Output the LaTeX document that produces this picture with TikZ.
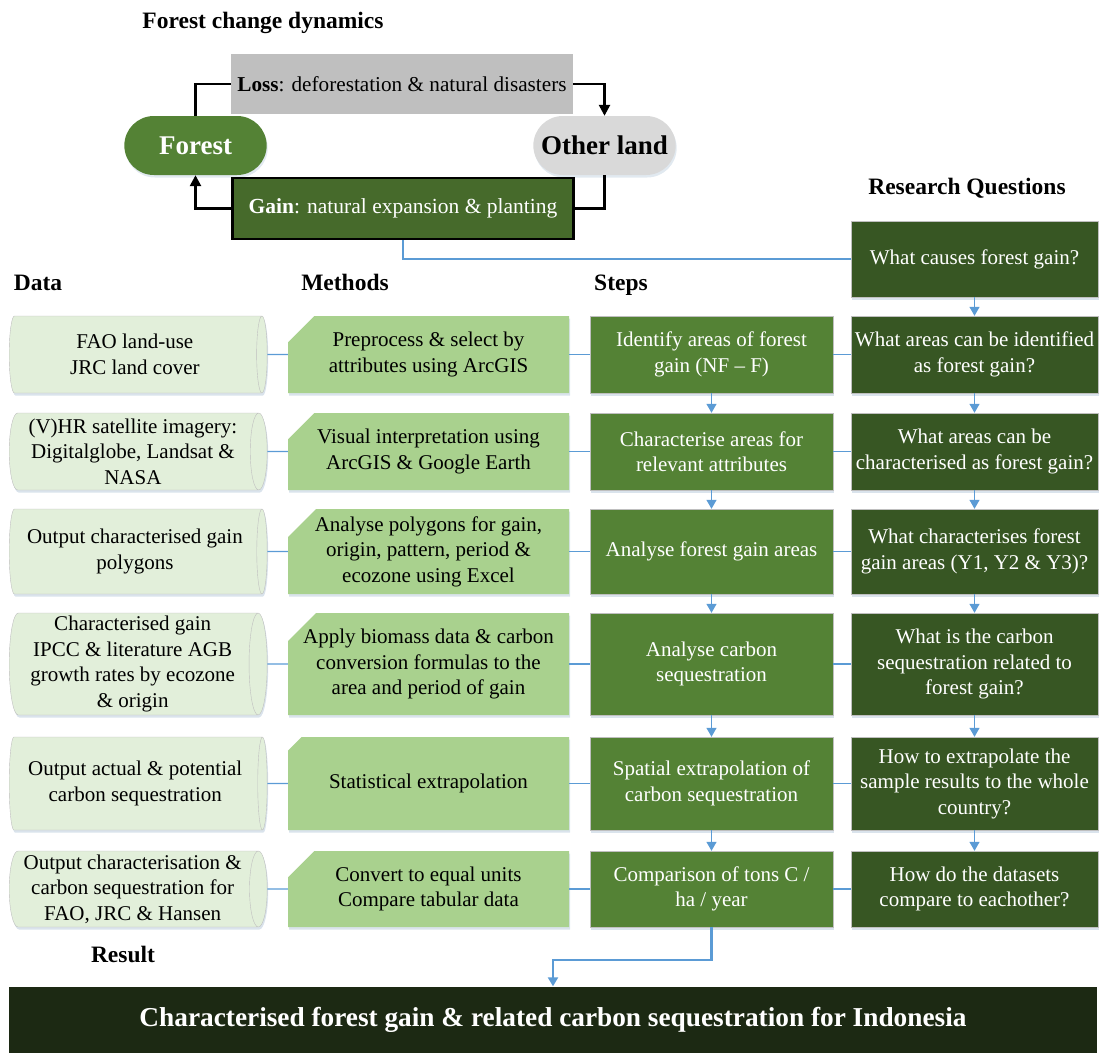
\documentclass[tikz,border=0pt]{standalone}
\usepackage{fontspec}
\setmainfont{Liberation Serif}
\usetikzlibrary{positioning, shapes.geometric, shapes.misc, arrows.meta, shadows}

\definecolor{stepgreen}{HTML}{548235}
\definecolor{askgreen}{HTML}{375623}
\definecolor{methgreen}{HTML}{A9D18E}
\definecolor{datagreen}{HTML}{E2EFDA}
\definecolor{gaingreen}{HTML}{466A2B}
\definecolor{lossgray}{HTML}{BFBFBF}
\definecolor{othergray}{HTML}{D9D9D9}
\definecolor{resultgreen}{HTML}{1C2913}
\definecolor{linkblue}{HTML}{5B9BD5}

\newcommand{\bodyfont}{\fontsize{21}{25.5}\selectfont}
\newcommand{\headfont}{\fontsize{23.5}{27}\selectfont\bfseries}

\tikzset{
  box/.style={rectangle, align=center, inner sep=1pt, font=\bodyfont,
    drop shadow={shadow xshift=1pt, shadow yshift=-2.5pt, opacity=0.25, fill=linkblue!60!gray}},
  databox/.style={box, cylinder, shape border rotate=0, anchor=west,
    fill=datagreen, draw=black!25, minimum height=258pt},
  methbox/.style={box, chamfered rectangle, chamfered rectangle corners=north west,
    chamfered rectangle xsep=25pt, inner xsep=-14pt, fill=methgreen, minimum width=281pt},
  stepbox/.style={box, fill=stepgreen, draw=black!25, text=white, minimum width=243pt},
  askbox/.style={box, fill=askgreen, draw=black!25, text=white, minimum width=247pt},
  header/.style={font=\headfont, inner sep=0pt, anchor=base},
  pill/.style={rounded rectangle, minimum width=149pt, minimum height=59pt,
    font=\fontsize{27}{30}\selectfont\bfseries,
    drop shadow={shadow xshift=1pt, shadow yshift=-2.5pt, opacity=0.2, fill=linkblue!60!gray}},
  turn/.style={draw=black, line width=2.5pt},
  turnarrow/.style={turn, -{Triangle[length=11pt,width=11pt]}},
  link/.style={draw=linkblue, line width=1.3pt},
  flow/.style={link, -{Triangle[length=9pt,width=10pt]}},
}

\begin{document}
\begin{tikzpicture}[x=1pt, y=-1pt]
\useasboundingbox (0,0) rectangle (1099,1052);

% forest change dynamics
\node[header] (tdyn) at (263,28) {Forest change dynamics};
\node[fill=lossgray, minimum width=342pt, minimum height=60pt,
  font=\fontsize{21.2}{24}\selectfont] (loss) at (402,84)
  {\textbf{Loss}: deforestation \& natural disasters};
\node[pill, fill=stepgreen, text=white] (forest) at (195.5,145.5) {Forest};
\node[pill, fill=othergray] (other) at (604.5,145.5) {Other land};
\node[fill=gaingreen, draw=black, line width=2.5pt, text=white, minimum width=341pt,
  minimum height=61pt, font=\fontsize{21.5}{24}\selectfont] (gain) at (403,208.5)
  {\textbf{Gain}: natural expansion \& planting};

\draw[turn] (forest.north) |- (loss.west);
\draw[turnarrow] (loss.east) -| (other.north);
\draw[turn] (other.south) |- (gain.east);
\draw[turnarrow] (gain.west) -| (forest.south);

% column headers
\node[header] (task) at (967,194) {Research Questions};
\node[header] (tdata) at (38,290) {Data};
\node[header] (tmeth) at (345,290) {Methods};
\node[header] (tstep) at (621,290) {Steps};
\node[header] (tres) at (123,962) {Result};

% research questions
\node[askbox, minimum height=76pt] (q0) at (974.5,259) {What causes forest gain?};
\node[askbox, minimum height=77pt] (q1) at (974.5,354.5) {What areas can be identified\\as forest gain?};
\node[askbox, minimum height=77pt] (q2) at (974.5,451.5) {What areas can be\\characterised as forest gain?};
\node[askbox, minimum height=85pt] (q3) at (974.5,551.5) {What characterises forest\\gain areas (Y1, Y2 \& Y3)?};
\node[askbox, minimum height=102pt] (q4) at (974.5,664) {What is the carbon\\sequestration related to\\forest gain?};
\node[askbox, minimum height=93pt] (q5) at (974.5,783.5) {How to extrapolate the\\sample results to the whole\\country?};
\node[askbox, minimum height=76pt] (q6) at (974.5,889) {How do the datasets\\compare to eachother?};

% steps
\node[stepbox, minimum height=77pt] (s1) at (711.5,354.5) {Identify areas of forest\\gain (NF – F)};
\node[stepbox, minimum height=77pt] (s2) at (711.5,451.5) {Characterise areas for\\relevant attributes};
\node[stepbox, minimum height=85pt] (s3) at (711.5,551.5) {Analyse forest gain areas};
\node[stepbox, minimum height=102pt] (s4) at (711.5,664) {Analyse carbon\\sequestration};
\node[stepbox, minimum height=93pt] (s5) at (711.5,783.5) {Spatial extrapolation of\\carbon sequestration};
\node[stepbox, minimum height=76pt] (s6) at (711.5,889) {Comparison of tons C /\\ha / year};

% methods
\node[methbox, minimum height=77pt] (m1) at (428.5,354.5) {Preprocess \& select by\\attributes using ArcGIS};
\node[methbox, minimum height=77pt] (m2) at (428.5,451.5) {Visual interpretation using\\ArcGIS \& Google Earth};
\node[methbox, minimum height=85pt] (m3) at (428.5,551.5) {Analyse polygons for gain,\\origin, pattern, period \&\\ecozone using Excel};
\node[methbox, minimum height=102pt] (m4) at (428.5,664) {Apply biomass data \& carbon\\conversion formulas to the\\area and period of gain};
\node[methbox, minimum height=93pt] (m5) at (428.5,783.5) {Statistical extrapolation};
\node[methbox, minimum height=76pt] (m6) at (428.5,889) {Convert to equal units\\Compare tabular data};

% data
\node[databox, minimum width=77pt, aspect=0.25] (d1) at (9,354.5) {FAO land-use\\JRC land cover};
\node[databox, minimum width=77pt, aspect=0.25] (d2) at (9,451.5) {(V)HR satellite imagery:\\Digitalglobe, Landsat \&\\NASA};
\node[databox, minimum width=85pt, aspect=0.224] (d3) at (9,551.5) {Output characterised gain\\polygons};
\node[databox, minimum width=102pt, aspect=0.186] (d4) at (9,664) {Characterised gain\\IPCC \& literature AGB\\growth rates by ecozone\\\& origin};
\node[databox, minimum width=93pt, aspect=0.204] (d5) at (9,783.5) {Output actual \& potential\\carbon sequestration};
\node[databox, minimum width=76pt, aspect=0.25] (d6) at (9,889) {Output characterisation \&\\carbon sequestration for\\FAO, JRC \& Hansen};

% result
\node[fill=resultgreen, text=white, minimum width=1088pt, minimum height=66pt,
  font=\fontsize{27.3}{30}\selectfont\bfseries] (res) at (553,1019.5)
  {Characterised forest gain \& related carbon sequestration for Indonesia};

% connectors
\draw[link] (gain.south) |- (q0.west);
\foreach \i in {1,...,6} {
  \draw[link] (d\i.east) -- (m\i.west);
  \draw[link] (m\i.east) -- (s\i.west);
  \draw[link] (s\i.east) -- (q\i.west);
}
\foreach \i [count=\j from 2] in {1,...,5}
  \draw[flow] (s\i) -- (s\j);
\foreach \i [count=\j] in {0,...,5}
  \draw[flow] (q\i) -- (q\j);
\draw[flow, line width=2.2pt] (s6.south) -- ++(0,33) -| (res.north);
\end{tikzpicture}
\end{document}
